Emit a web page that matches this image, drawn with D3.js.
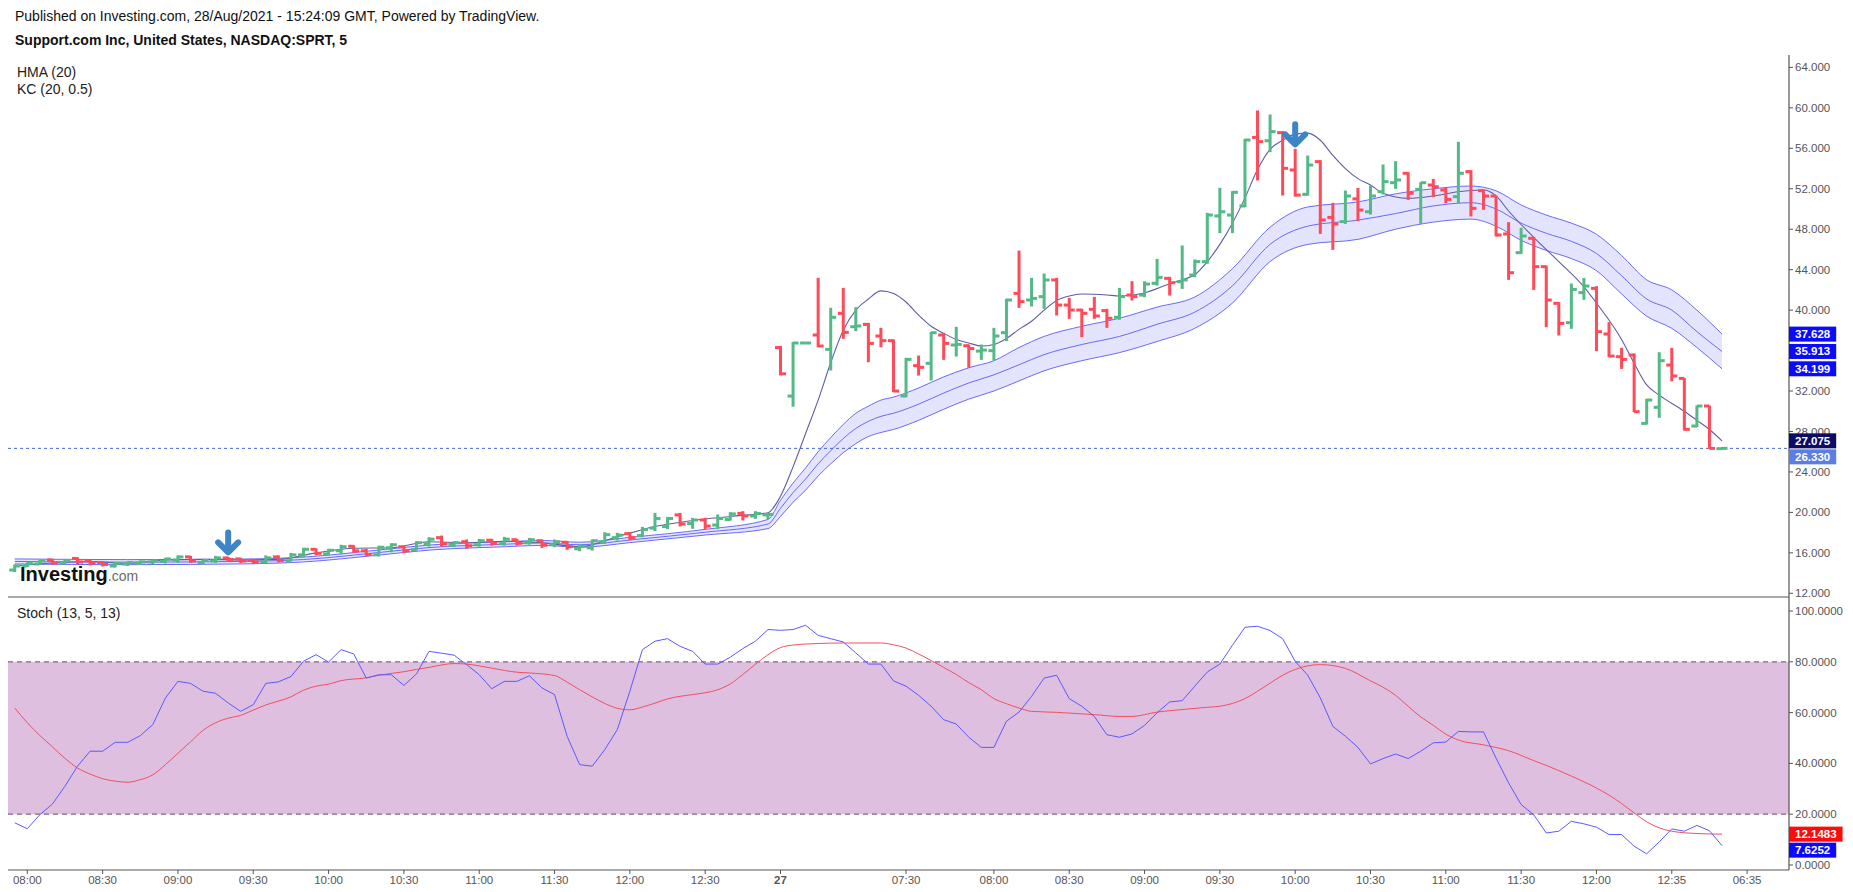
<!DOCTYPE html>
<html lang="en">
<head>
<meta charset="UTF-8">
<script src="https://d3js.org/d3.v7.min.js"></script>
<style>
  body { margin: 0; background: #fff; }
  text { font-family: "Liberation Sans", Arial, sans-serif; }
</style>
</head>
<body>
<svg id="chart" width="1853" height="892"></svg>
<script>
// 5 min OHLC bars, index 0 = 07:55 on the 26th, index 61 = first bar of the 27th
const opens = [14.3,14.7,14.9,15.3,15.0,15.45,15.2,15.05,14.7,14.9,15.0,15.1,15.15,15.3,15.6,15.05,15.2,15.5,15.4,15.25,
  15.1,15.6,15.2,15.8,16.35,15.9,16.2,16.65,16.2,15.8,16.5,16.6,16.3,16.9,17.5,16.75,17.1,16.8,17.25,16.9,
  17.3,17.0,17.2,16.8,17.05,16.4,16.5,17.1,17.5,17.9,17.7,18.45,18.6,19.75,18.9,19.25,18.75,19.3,19.9,19.65,19.75,
  36.3,31.5,36.75,37.54,36.12,39.68,38.36,38.59,37.44,36.98,31.51,34.51,34.74,37.54,36.55,36.48,35.95,35.99,37.77,41.66,
  41.0,41.33,42.98,40.5,40.01,40.08,39.95,39.29,41.49,41.49,42.65,43.14,42.81,43.47,44.79,49.31,49.4,50.3,57.08,56.75,
  57.55,53.86,51.45,54.68,49.17,48.75,51.0,49.73,51.71,52.6,53.53,51.94,52.37,51.88,51.22,53.69,51.81,51.28,47.53,45.68,
  47.1,44.3,40.67,38.76,41.73,42.15,37.64,35.4,35.56,28.8,30.39,34.57,33.25,28.54,30.52,26.3];
const highs = [14.8,15.0,15.25,15.35,15.35,15.5,15.3,15.1,15.05,15.1,15.2,15.3,15.45,15.7,15.65,15.3,15.65,15.55,15.45,15.35,
  15.7,15.7,15.95,16.45,16.4,16.35,16.75,16.7,16.35,16.65,16.9,16.67,17.1,17.5,17.66,17.1,17.27,17.33,17.33,17.53,
  17.33,17.43,17.27,17.27,17.1,16.77,17.27,17.99,17.93,17.99,18.52,19.9,19.5,19.9,19.41,19.41,19.75,19.97,20.07,20.07,19.85,
  36.4,36.8,36.75,43.14,40.18,42.15,40.24,38.69,38.2,37.05,35.23,35.46,37.8,37.7,38.3,36.55,36.55,38.2,41.07,45.84,
  43.14,43.57,43.14,41.16,40.08,41.26,40.08,42.15,42.81,42.81,45.02,43.24,46.34,44.96,49.57,52.04,51.71,56.89,59.69,59.29,
  57.65,55.9,55.24,54.78,50.56,51.78,52.04,52.27,54.35,54.68,53.59,52.6,52.93,52.04,56.59,53.79,51.88,51.28,48.65,48.09,
  47.2,44.36,40.74,42.58,43.14,42.32,38.76,36.22,35.66,31.18,35.79,36.22,33.25,30.52,30.52,26.36];
const lows = [14.15,14.65,14.85,14.9,14.95,14.95,14.8,14.7,14.6,14.75,14.85,14.9,15.0,15.05,15.05,14.9,15.05,15.25,15.05,14.95,
  15.0,15.1,15.2,15.6,15.8,15.8,15.9,16.05,15.7,15.7,16.1,16.02,16.28,16.67,16.67,16.61,16.44,16.67,16.77,16.77,
  16.77,16.87,16.54,16.61,16.35,16.21,16.28,16.94,17.27,17.27,17.6,18.2,18.4,18.66,18.43,18.4,18.4,19.25,19.25,19.41,19.4,
  33.6,30.5,36.75,36.38,34.08,37.21,37.97,34.9,36.38,31.94,31.44,33.58,33.09,35.13,35.46,34.34,35.13,35.07,36.98,40.27,
  40.41,40.18,39.52,39.19,37.38,39.19,38.3,39.09,41.0,41.33,42.48,41.49,42.15,43.31,44.63,47.66,47.66,50.23,52.87,55.67,
  51.38,51.28,51.38,47.59,46.01,48.58,48.84,49.5,51.48,52.04,50.95,48.58,51.22,50.62,50.62,49.31,49.97,47.33,43.04,45.61,
  42.05,38.36,37.54,38.2,41.07,35.99,35.4,34.24,29.96,28.74,29.4,33.02,28.15,28.48,26.33,26.3];
const closes = [14.7,14.95,15.2,15.0,15.25,15.1,15.0,14.85,14.95,15.05,15.1,15.2,15.4,15.6,15.2,15.25,15.5,15.35,15.2,15.1,
  15.5,15.25,15.8,16.35,15.95,16.25,16.6,16.2,15.85,16.55,16.8,16.2,17.0,17.35,16.9,17.0,16.7,17.2,16.95,17.35,
  16.95,17.3,16.75,17.1,16.6,16.65,17.2,17.8,17.75,17.5,18.3,19.4,19.4,18.85,19.25,18.65,19.4,19.85,19.65,19.9,19.8,
  33.7,36.75,36.75,36.45,39.29,37.8,38.43,36.71,36.98,32.0,35.13,34.34,37.77,36.71,36.61,36.2,36.05,37.44,41.0,40.84,
  41.16,42.98,40.5,40.01,39.68,39.42,39.19,41.33,41.33,42.58,43.24,42.71,42.98,44.79,49.4,49.73,51.65,56.82,56.66,57.65,
  54.02,51.38,54.35,48.91,48.51,51.28,49.9,51.28,52.7,52.87,51.55,52.6,52.2,50.95,53.53,50.06,51.28,47.43,43.7,47.33,
  44.3,41.0,38.69,42.05,42.38,37.87,35.46,35.13,29.96,31.11,35.0,33.49,28.21,30.52,26.33,26.33];

// time axis
const tickIdx = [1,7,13,19,25,31,37,43,49,55,61,71,78,84,90,96,102,108,114,120,126,132,138];
const tickLabels = ["08:00","08:30","09:00","09:30","10:00","10:30","11:00","11:30","12:00","12:30","27",
  "07:30","08:00","08:30","09:00","09:30","10:00","10:30","11:00","11:30","12:00","12:35","06:35"];
const priceTicks = [12,16,20,24,28,32,36,40,44,48,52,56,60,64];
const stochTicks = [0,20,40,60,80,100];

// HMA (20)
const hmaIdx = [0,3,6,9,12,15,18,21,24,27,30,33,36,39,42,45,48,51,54,57,60,
  61,62,63,64,65,66,67,68,69,70,71,72,73,74,75,76,77,78,79,80,81,82,83,84,85,87,88,90,
  92,93,94,95,96,97,98,99,100,101,102,103,104,105,106,107,108,109,111,113,115,117,118,119,
  121,123,125,126,128,129,130,131,133,134,135,136];
const hmaVal = [14.7,15.0,15.15,14.95,15.3,15.35,15.3,15.35,16.0,16.45,16.5,17.1,17.0,17.15,17.0,16.6,17.6,18.6,19.2,19.6,19.97,
  21.6,24.5,27.8,31.1,34.8,38.0,40.0,41.1,41.9,41.65,40.8,39.5,38.4,37.7,37.1,36.75,36.45,36.6,37.2,38.1,38.9,40.0,40.95,41.4,41.6,41.5,41.4,41.7,
  42.6,43.0,43.5,44.8,46.5,48.6,51.1,53.9,55.9,56.8,57.4,57.5,56.8,55.3,54.0,53.0,52.37,51.55,51.05,51.28,51.71,51.88,51.3,49.8,
  47.2,44.8,42.3,40.7,37.1,34.74,32.6,31.6,30.0,29.1,28.2,27.075];

// KC (20, 0.5)
const kcIdx = [0,9,19,23,29,33,39,42,45,49,55,60,61,62,63,64,65,66,67,68,69,70,72,74,76,78,80,82,85,88,91,94,97,100,103,107,110,113,116,118,120,122,124,126,128,130,132,134,136];
const kcUpper = [15.4,15.33,15.4,15.58,16.28,16.77,17.1,17.22,17.05,17.53,18.32,19.3,21.2,22.9,24.4,26.0,27.4,28.7,29.8,30.5,31.1,31.4,32.3,33.4,34.3,35.0,36.3,37.4,38.4,39.2,40.3,41.3,44.1,48.2,50.2,50.7,51.5,52.0,52.27,51.8,50.4,49.4,48.6,47.5,45.4,43.0,42.0,40.0,37.628];
const kcMid = [15.15,15.08,15.16,15.34,16.03,16.52,16.85,16.98,16.8,17.27,18.04,18.85,20.4,21.95,23.3,24.8,26.1,27.3,28.3,29.0,29.5,29.8,30.7,31.8,32.8,33.6,34.6,35.6,36.6,37.4,38.6,39.8,42.4,46.5,48.3,48.9,49.55,50.3,50.62,50.0,48.6,47.6,46.8,45.6,43.4,41.1,40.0,37.87,35.913];
const kcLower = [14.9,14.83,14.92,15.1,15.78,16.27,16.6,16.74,16.55,17.01,17.76,18.4,19.6,21.0,22.2,23.6,24.8,25.9,26.8,27.5,27.9,28.2,29.1,30.2,31.2,32.0,33.0,34.0,35.0,35.8,36.9,38.2,40.7,44.8,46.5,47.0,48.0,48.7,49.0,48.3,46.9,45.9,45.1,43.9,41.6,39.4,38.2,36.3,34.199];

// Stoch (13, 5, 13): %K per bar, %D read at these bars
const stochK = [16.6,14.3,19.8,24.0,31.0,38.9,44.8,44.8,48.3,48.3,50.9,55.3,65.7,72.3,71.5,68.4,67.6,63.8,60.5,63.1,
  71.5,72.1,74.2,80.2,82.8,79.9,84.8,83.1,73.6,74.9,74.9,70.7,75.2,84.1,83.4,82.6,78.9,74.9,69.4,72.3,
  72.3,74.5,69.7,67.1,50.7,39.5,38.9,45.4,53.3,68.4,84.8,88.1,89.1,86.1,84.1,79.1,79.1,81.8,85.2,88.1,
  92.7,92.4,92.7,94.4,90.4,89.1,87.8,83.5,79.1,79.1,72.5,70.4,66.8,62.5,57.2,55.5,50.3,46.3,46.3,56.6,
  60.2,66.4,73.6,74.7,65.5,62.5,58.5,51.3,50.3,51.6,55.0,59.9,64.2,64.7,70.4,76.0,79.1,86.5,93.6,94.0,
  92.3,89.1,80.2,74.7,65.8,54.6,50.7,46.3,39.8,41.9,43.7,41.9,44.8,48.1,48.4,52.6,52.4,52.4,42.1,32.3,
  23.8,19.8,12.6,13.3,17.2,16.2,14.9,12.0,12.0,7.4,4.4,9.1,14.2,13.3,15.6,13.5,7.6252];
const stochDIdx = [0,1,2,3,4,5,6,7,8,9,10,11,12,13,14,15,16,17,18,19,20,22,23,24,25,26,28,29,31,32,33,35,36,37,38,40,41,
  43,44,45,46,47,48,49,50,51,52,54,55,56,57,58,59,60,61,62,64,66,69,70,71,72,73,74,75,76,77,78,79,80,81,83,84,86,88,89,
  91,93,95,96,97,98,99,100,101,102,103,104,106,108,109,110,111,112,113,114,115,117,119,121,122,124,126,127,128,129,130,131,132,134,136];
const stochD = [61.8,56,51,46.5,42,38.2,35.8,34.0,33.0,32.6,33.6,35.5,39.5,44,48.5,53,56,57.8,58.9,61,63,66.2,68.8,70.4,71.2,72.6,73.7,74.7,76.1,77,77.8,79.3,79.1,78.4,77.5,75.9,75.6,
  74.6,72,69,66.2,63.6,61.7,61.1,62.2,63.7,65.4,67.1,67.8,69,71.3,75,79,82.8,85.6,86.6,87.2,87.4,87.4,86.7,85.4,83.1,80.5,77.8,75,71.8,69,65.5,63.5,61.8,60.5,60.1,59.8,59.2,58.5,58.5,
  60.2,61.2,62.1,62.5,63.6,65.5,68.4,71.6,74.7,77,78.4,78.9,77.4,72.5,70,66.8,62.5,58.3,55,51.5,49.2,47.3,45,41.1,39.2,35,30.3,27.5,24.2,20.5,17,14.6,13.3,12.4,12.1483];

// signal arrows (bar index)
const signalIdx = [17, 102];
// last values on the right scales
const priceBoxVals = [37.628, 35.913, 34.199, 27.075, 26.330];
const stochBoxVals = [12.1483, 7.6252];

const W = 1853, H = 892;
const axisX = 1789, left = 8;
const paneTop = 55, paneSep = 597, paneBottom = 870;
const up = "#53b987", down = "#ff4a5a";

const x = d3.scaleLinear().domain([0, 136]).range([14.75, 1722]);
const y = d3.scaleLinear().domain([12, 64]).range([593.3, 67.4]);
const ys = d3.scaleLinear().domain([0, 100]).range([865, 611]);

const svg = d3.select("#chart");
svg.append("rect").attr("width", W).attr("height", H).attr("fill", "#fff");

const defs = svg.append("defs");
defs.append("clipPath").attr("id", "clipP").append("rect")
    .attr("x", left).attr("y", paneTop).attr("width", axisX - left).attr("height", paneSep - paneTop);
defs.append("clipPath").attr("id", "clipS").append("rect")
    .attr("x", left).attr("y", paneSep).attr("width", axisX - left).attr("height", paneBottom - paneSep);
defs.append("clipPath").attr("id", "clipPA").append("rect")
    .attr("x", axisX).attr("y", 0).attr("width", W - axisX).attr("height", paneSep);
defs.append("clipPath").attr("id", "clipSA").append("rect")
    .attr("x", axisX).attr("y", paneSep + 1).attr("width", W - axisX).attr("height", paneBottom - paneSep - 1);

// header
svg.append("text").attr("x", 15).attr("y", 21).style("font-size", "14px").attr("fill", "#111")
    .text("Published on Investing.com, 28/Aug/2021 - 15:24:09 GMT, Powered by TradingView.");
svg.append("text").attr("x", 15).attr("y", 45).style("font-size", "14px").style("font-weight", "bold").attr("fill", "#111")
    .text("Support.com Inc, United States, NASDAQ:SPRT, 5");
svg.append("text").attr("x", 17).attr("y", 77).style("font-size", "14px").attr("fill", "#222").text("HMA (20)");
svg.append("text").attr("x", 17).attr("y", 94).style("font-size", "14px").attr("fill", "#222").text("KC (20, 0.5)");

// ---- price pane
const gp = svg.append("g").attr("clip-path", "url(#clipP)");

const kc = kcIdx.map((i, k) => ({ i, u: kcUpper[k], m: kcMid[k], l: kcLower[k] }));
gp.append("path").datum(kc)
    .attr("d", d3.area().x(d => x(d.i)).y0(d => y(d.l)).y1(d => y(d.u)).curve(d3.curveMonotoneX))
    .attr("fill", "rgba(120,120,255,0.2)");
["u", "m", "l"].forEach(key => {
    gp.append("path").datum(kc)
        .attr("d", d3.line().x(d => x(d.i)).y(d => y(d[key])).curve(d3.curveMonotoneX))
        .attr("fill", "none").attr("stroke", "#5c5cf0").attr("stroke-width", 1).attr("opacity", 0.9);
});

const hma = hmaIdx.map((i, k) => ({ i, v: hmaVal[k] }));
gp.append("path").datum(hma)
    .attr("d", d3.line().x(d => x(d.i)).y(d => y(d.v)).curve(d3.curveMonotoneX))
    .attr("fill", "none").attr("stroke", "#5e5ea0").attr("stroke-width", 1.1);

// last price line
gp.append("line").attr("x1", left).attr("x2", axisX)
    .attr("y1", y(closes[closes.length - 1])).attr("y2", y(closes[closes.length - 1]))
    .attr("stroke", "#4a63d8").attr("stroke-width", 1).attr("stroke-dasharray", "3,3");

// OHLC bars
const bars = d3.range(opens.length).map(i => ({ i, o: opens[i], h: highs[i], l: lows[i], c: closes[i] }));
const bg = gp.append("g");
bars.forEach(d => {
    const cx = x(d.i), col = d.c >= d.o ? up : down;
    bg.append("rect").attr("x", cx - 1.5).attr("y", y(d.h) - 0.5)
        .attr("width", 3).attr("height", Math.max(y(d.l) - y(d.h) + 1, 1)).attr("fill", col);
    bg.append("rect").attr("x", cx - 5.5).attr("y", y(d.o) - 1.5).attr("width", 5.5).attr("height", 3).attr("fill", col);
    bg.append("rect").attr("x", cx).attr("y", y(d.c) - 1.5).attr("width", 5.5).attr("height", 3).attr("fill", col);
});

// signal arrows
signalIdx.forEach(i => {
    const cx = x(i), tip = y(highs[i]) - 3;
    gp.append("path")
        .attr("d", `M${cx},${tip - 22}L${cx},${tip - 3}M${cx - 10},${tip - 12}L${cx},${tip - 2}L${cx + 10},${tip - 12}`)
        .attr("fill", "none").attr("stroke", "#3d85c6").attr("stroke-width", 6)
        .attr("stroke-linecap", "round").attr("stroke-linejoin", "round");
});

// Investing logo
const logo = svg.append("text").attr("x", 20).attr("y", 581);
logo.append("tspan").style("font-size", "20px").style("font-weight", "bold").attr("fill", "#111").text("Investing");
logo.append("tspan").style("font-size", "14px").attr("fill", "#6b6b6b").text(".com");

// ---- stoch pane
const gs = svg.append("g").attr("clip-path", "url(#clipS)");
gs.append("rect").attr("x", left).attr("width", axisX - left)
    .attr("y", ys(80)).attr("height", ys(20) - ys(80)).attr("fill", "#dfbfdf");
[80, 20].forEach(v => {
    gs.append("line").attr("x1", left).attr("x2", axisX).attr("y1", ys(v)).attr("y2", ys(v))
        .attr("stroke", "#7d6a80").attr("stroke-width", 1.3).attr("stroke-dasharray", "5,4");
});
gs.append("path").datum(stochDIdx.map((i, k) => ({ i, v: stochD[k] })))
    .attr("d", d3.line().x(d => x(d.i)).y(d => ys(d.v)).curve(d3.curveMonotoneX))
    .attr("fill", "none").attr("stroke", "#f05060").attr("stroke-width", 1);
gs.append("path").datum(stochK.map((v, i) => ({ i, v })))
    .attr("d", d3.line().x(d => x(d.i)).y(d => ys(d.v)))
    .attr("fill", "none").attr("stroke", "#5a5aff").attr("stroke-width", 1);

svg.append("text").attr("x", 17).attr("y", 618).style("font-size", "14px").attr("fill", "#222").text("Stoch (13, 5, 13)");

// ---- frame
svg.append("line").attr("x1", left).attr("x2", axisX).attr("y1", paneSep).attr("y2", paneSep)
    .attr("stroke", "#555").attr("stroke-width", 1.2);
svg.append("line").attr("x1", left).attr("x2", axisX).attr("y1", paneBottom).attr("y2", paneBottom)
    .attr("stroke", "#555").attr("stroke-width", 1.2);
svg.append("line").attr("x1", axisX).attr("x2", axisX).attr("y1", paneTop).attr("y2", paneBottom)
    .attr("stroke", "#555").attr("stroke-width", 1.2);

// right axes
const pa = svg.append("g").attr("clip-path", "url(#clipPA)");
priceTicks.forEach(v => {
    pa.append("line").attr("x1", axisX).attr("x2", axisX + 4).attr("y1", y(v)).attr("y2", y(v)).attr("stroke", "#555");
    pa.append("text").attr("x", axisX + 6).attr("y", y(v)).attr("dy", "0.35em")
        .style("font-size", "11.5px").attr("fill", "#555").text(v.toFixed(3));
});
const sa = svg.append("g").attr("clip-path", "url(#clipSA)");
stochTicks.forEach(v => {
    sa.append("line").attr("x1", axisX).attr("x2", axisX + 4).attr("y1", ys(v)).attr("y2", ys(v)).attr("stroke", "#555");
    sa.append("text").attr("x", axisX + 6).attr("y", ys(v)).attr("dy", "0.35em")
        .style("font-size", "11.5px").attr("fill", "#555").text(v.toFixed(4));
});

function valueBoxes(g, vals, scale, digits, colors) {
    let prev = -Infinity;
    vals.map((v, k) => ({ v, col: colors[k], cy: scale(v) }))
        .sort((a, b) => a.cy - b.cy)
        .forEach(d => {
            const top = Math.max(d.cy - 7.5, prev + 1);
            prev = top + 15;
            const r = g.append("rect").attr("x", axisX).attr("y", top).attr("height", 15).attr("fill", d.col);
            const t = g.append("text").attr("x", axisX + 6).attr("y", top + 11.5)
                .style("font-size", "11.5px").style("font-weight", "bold").attr("fill", "#fff").text(d.v.toFixed(digits));
            r.attr("width", t.node().getComputedTextLength() + 12);
        });
}
valueBoxes(svg, priceBoxVals, y, 3, ["#0a0aff", "#0a0aff", "#0a0aff", "#0c0c66", "#5b7ee6"]);
valueBoxes(svg, stochBoxVals, ys, 4, ["#ff0a0a", "#0a0aff"]);

// time axis
tickIdx.forEach((i, k) => {
    svg.append("line").attr("x1", x(i)).attr("x2", x(i)).attr("y1", paneBottom).attr("y2", paneBottom + 4).attr("stroke", "#555");
    svg.append("text").attr("x", x(i)).attr("y", 884).attr("text-anchor", "middle")
        .style("font-size", "11.5px").style("font-weight", tickLabels[k] === "27" ? "bold" : "normal")
        .attr("fill", "#555").text(tickLabels[k]);
});
</script>
</body>
</html>
